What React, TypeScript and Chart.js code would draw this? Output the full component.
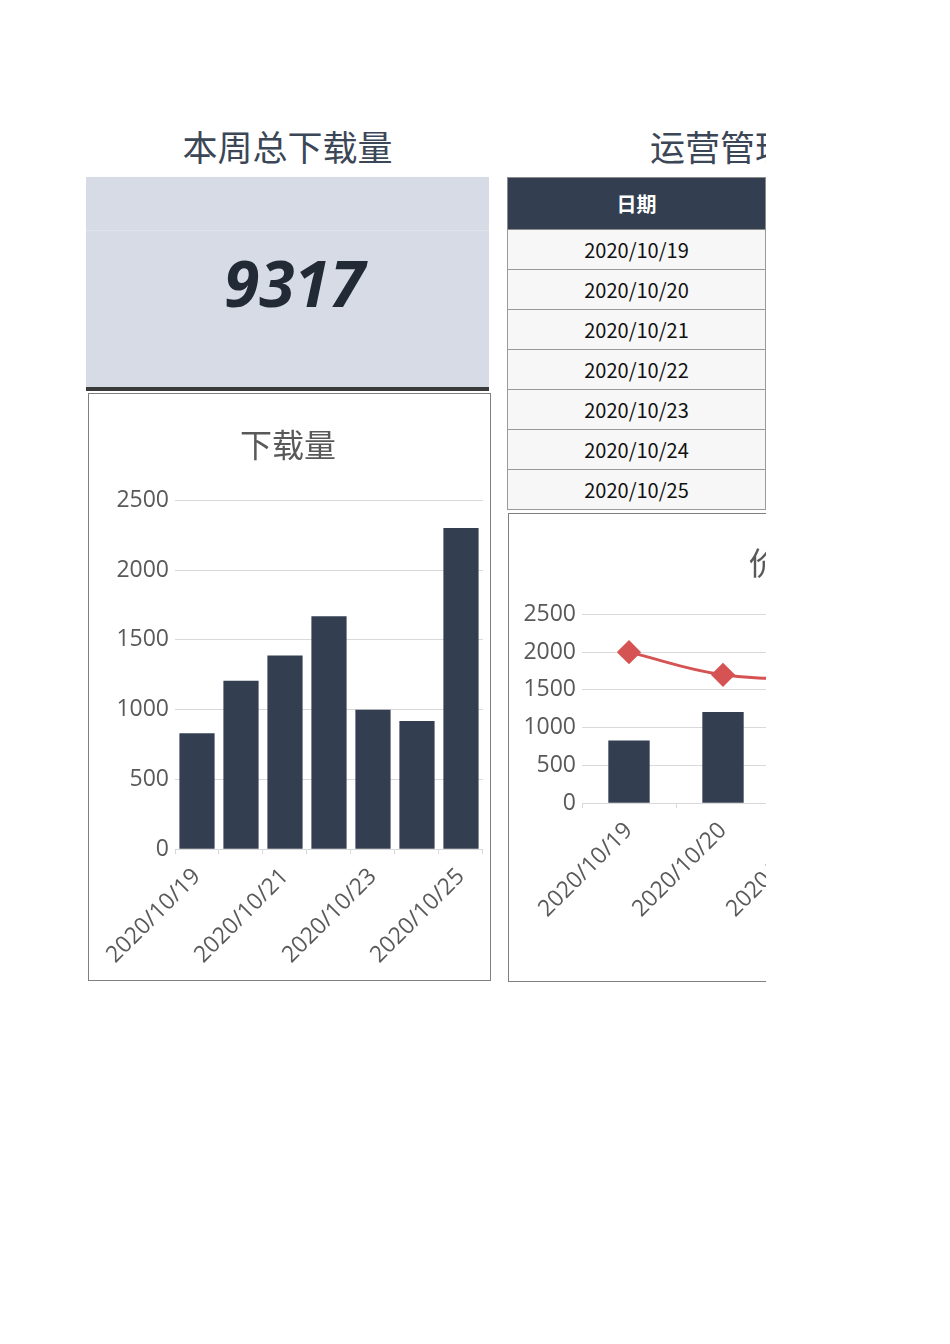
import React, { useRef, useEffect } from 'react';
import { Chart, registerables } from 'chart.js';

Chart.register(...registerables);

const dates = ['2020/10/19', '2020/10/20', '2020/10/21', '2020/10/22', '2020/10/23', '2020/10/24', '2020/10/25'];
const downloads = [830, 1208, 1388, 1670, 1000, 918, 2303];
const prices = [2000, 1700, 1650, 1660, 1700, 1720, 1750];
const yTicks = [0, 500, 1000, 1500, 2000, 2500];

const total = downloads.reduce((a, b) => a + b, 0);

const FONT = "'Open Sans', 'Noto Sans CJK SC', sans-serif";
const CJK = "'Noto Sans CJK SC', 'Open Sans', sans-serif";
const NAVY = '#333f50';
const GRID = '#d9d9d9';
const TEXT = '#595959';

const DownloadChart: React.FC = () => {
  const chartRef = useRef<HTMLCanvasElement | null>(null);
  const chartInstanceRef = useRef<Chart | null>(null);

  useEffect(() => {
    if (chartRef.current) {
      if (chartInstanceRef.current) {
        chartInstanceRef.current.destroy();
        chartInstanceRef.current = null;
      }
      const chart = new Chart(chartRef.current, {
        type: 'bar',
        data: {
          labels: dates,
          datasets: [{
            label: '下载量',
            data: downloads,
            backgroundColor: NAVY,
            barPercentage: 0.8,
            categoryPercentage: 1,
          }],
        },
        options: {
          animation: false,
          responsive: true,
          maintainAspectRatio: false,
          layout: { padding: { top: 0, right: 7, bottom: 2, left: 4 } },
          plugins: {
            legend: { display: false },
            tooltip: { enabled: false },
            title: {
              display: true,
              text: '下载量',
              color: TEXT,
              font: { family: CJK, size: 32, weight: 'normal' },
              padding: { top: 32, bottom: 36 },
            },
          },
          scales: {
            x: {
              grid: { drawOnChartArea: false, drawTicks: true, tickLength: 5, color: GRID },
              border: { color: GRID },
              ticks: {
                autoSkip: false,
                maxRotation: 45,
                minRotation: 45,
                color: TEXT,
                font: { family: FONT, size: 23 },
                padding: 9,
                callback: (_v, i) => (i % 2 === 0 ? dates[i] : ''),
              },
            },
            y: {
              min: yTicks[0],
              max: yTicks[yTicks.length - 1],
              grid: { color: GRID, drawTicks: false },
              border: { display: false },
              afterFit: (s) => { s.width = 82; },
              ticks: {
                stepSize: 500,
                color: TEXT,
                font: { family: FONT, size: 23 },
                padding: 6,
                callback: (v) => String(v),
              },
            },
          },
        },
      });
      chartInstanceRef.current = chart;
    }
    return () => {
      if (chartInstanceRef.current !== null) {
        chartInstanceRef.current.destroy();
        chartInstanceRef.current = null;
      }
    };
  }, []);

  return <canvas ref={chartRef}></canvas>;
};

const ComboChart: React.FC = () => {
  const chartRef = useRef<HTMLCanvasElement | null>(null);
  const chartInstanceRef = useRef<Chart | null>(null);

  useEffect(() => {
    if (chartRef.current) {
      if (chartInstanceRef.current) {
        chartInstanceRef.current.destroy();
        chartInstanceRef.current = null;
      }
      const chart = new Chart(chartRef.current, {
        type: 'bar',
        data: {
          labels: dates,
          datasets: [
            {
              type: 'line',
              label: '价格',
              data: prices,
              borderColor: '#d65353',
              backgroundColor: '#d65353',
              borderWidth: 3,
              tension: 0.4,
              pointStyle: 'rectRot',
              pointRadius: 10,
              order: 0,
            },
            {
              type: 'bar',
              label: '下载量',
              data: downloads,
              backgroundColor: NAVY,
              barPercentage: 0.44,
              categoryPercentage: 1,
              order: 1,
            },
          ],
        },
        options: {
          animation: false,
          responsive: true,
          maintainAspectRatio: false,
          layout: { padding: { top: 0, right: 27, bottom: 11, left: 4 } },
          plugins: {
            legend: {
              display: true,
              position: 'bottom',
              labels: { color: TEXT, font: { family: CJK, size: 18 } },
            },
            tooltip: { enabled: false },
            title: {
              display: true,
              text: '价格与下载量对比',
              color: TEXT,
              font: { family: CJK, size: 32, weight: 'normal' },
              padding: { top: 30, bottom: 32 },
            },
          },
          scales: {
            x: {
              grid: { drawOnChartArea: false, drawTicks: true, tickLength: 5, color: GRID },
              border: { color: GRID },
              ticks: {
                autoSkip: false,
                maxRotation: 45,
                minRotation: 45,
                color: TEXT,
                font: { family: FONT, size: 23 },
                padding: 9,
              },
            },
            y: {
              min: yTicks[0],
              max: yTicks[yTicks.length - 1],
              grid: { color: GRID, drawTicks: false },
              border: { display: false },
              afterFit: (s) => { s.width = 69; },
              ticks: {
                stepSize: 500,
                color: TEXT,
                font: { family: FONT, size: 23 },
                padding: 6,
                callback: (v) => String(v),
              },
            },
          },
        },
      });
      chartInstanceRef.current = chart;
    }
    return () => {
      if (chartInstanceRef.current !== null) {
        chartInstanceRef.current.destroy();
        chartInstanceRef.current = null;
      }
    };
  }, []);

  return <canvas ref={chartRef}></canvas>;
};

const App: React.FC = () => {
  return (
    <div
      style={{
        position: 'absolute',
        left: 0,
        top: 0,
        width: 766,
        height: 1344,
        overflow: 'hidden',
        background: '#fff',
        fontFamily: CJK,
      }}
    >
      <div
        style={{
          position: 'absolute', left: 86, top: 122, width: 403, textAlign: 'center',
          fontSize: 35, color: '#3b4656', lineHeight: '48px',
        }}
      >
        本周总下载量
      </div>
      <div
        style={{
          position: 'absolute', left: 650, top: 122, whiteSpace: 'nowrap',
          fontSize: 35, color: '#3b4656', lineHeight: '48px',
        }}
      >
        运营管理数据分析表
      </div>

      <div
        style={{
          position: 'absolute', left: 86, top: 177, width: 403, height: 210,
          background: '#d6dbe5', borderBottom: '4px solid #3a3a3a',
        }}
      >
        <div style={{ position: 'absolute', left: 0, top: 53, width: '100%', height: 1, background: '#dee2ea' }} />
        <div
          style={{
            position: 'absolute', left: 0, top: 66, width: '100%', textAlign: 'center',
            fontFamily: "'Open Sans', sans-serif", fontWeight: 'bold', fontStyle: 'italic',
            fontSize: 64, color: '#222a35', lineHeight: '80px', paddingLeft: 14, boxSizing: 'border-box',
          }}
        >
          {total}
        </div>
      </div>

      <div
        style={{
          position: 'absolute', left: 88, top: 393, width: 403, height: 588,
          border: '1px solid #7f7f7f', boxSizing: 'border-box',
        }}
      >
        <div style={{ position: 'relative', width: 401, height: 586 }}>
          <DownloadChart />
        </div>
      </div>

      <table
        style={{
          position: 'absolute', left: 507, top: 177, width: 259,
          borderCollapse: 'collapse', fontFamily: CJK,
        }}
      >
        <thead>
          <tr>
            <th
              style={{
                height: 51, background: NAVY, color: '#fff', fontSize: 20, fontWeight: 'bold',
                border: '1px solid #8c8c8c', padding: 0,
              }}
            >
              日期
            </th>
          </tr>
        </thead>
        <tbody>
          {dates.map((d) => (
            <tr key={d}>
              <td
                style={{
                  height: 39, background: '#f7f7f7', color: '#111', fontSize: 20, textAlign: 'center',
                  border: '1px solid #9a9a9a', padding: 0,
                }}
              >
                {d}
              </td>
            </tr>
          ))}
        </tbody>
      </table>

      <div
        style={{
          position: 'absolute', left: 508, top: 513, width: 760, height: 469,
          border: '1px solid #7f7f7f', boxSizing: 'border-box',
        }}
      >
        <div style={{ position: 'relative', width: 758, height: 467 }}>
          <ComboChart />
        </div>
      </div>
    </div>
  );
};

export default App;
